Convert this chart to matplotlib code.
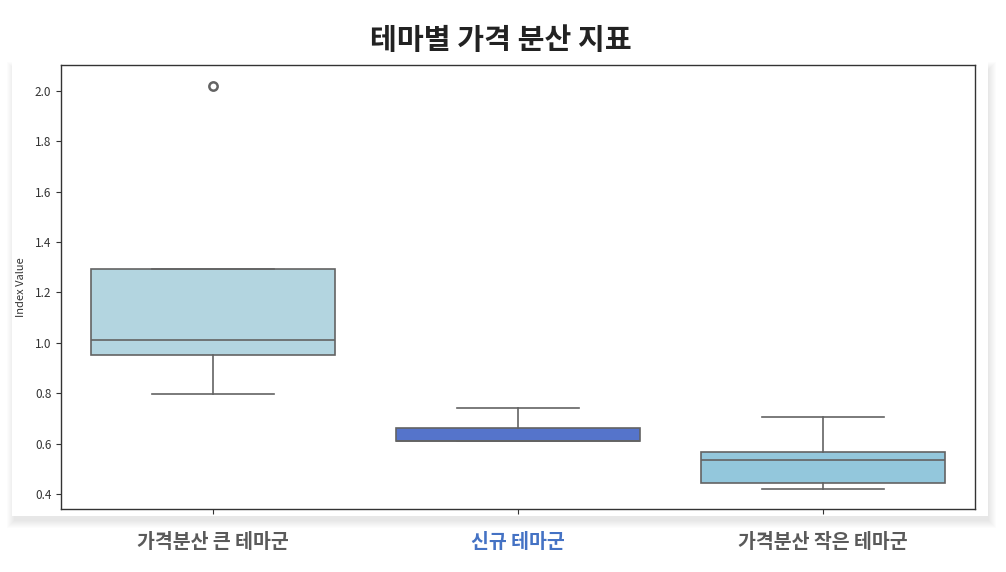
import matplotlib
matplotlib.use("Agg")
import matplotlib.pyplot as plt
from matplotlib.patches import Rectangle

plt.rcParams['font.family'] = ['Noto Sans CJK KR', 'DejaVu Sans']

categories = ["가격분산 큰 테마군", "신규 테마군", "가격분산 작은 테마군"]
q1 = [0.952, 0.610, 0.444]
med = [1.011, 0.610, 0.535]
q3 = [1.293, 0.662, 0.567]
whislo = [0.797, 0.610, 0.420]
whishi = [1.293, 0.741, 0.706]
fliers = [[2.02], [], []]
box_colors = ["#b3d5e0", "#5574cb", "#93c7dc"]
label_colors = ["#5a5a5a", "#4472c4", "#5a5a5a"]
yticks = [0.4, 0.6, 0.8, 1.0, 1.2, 1.4, 1.6, 1.8, 2.0]

W, H = 1006, 572
fig = plt.figure(figsize=(W / 100, H / 100), dpi=100)
fig.patch.set_facecolor("white")

# card with soft shadow (mostly below / right)
cx0, cy0, cx1, cy1 = 12, 62, 988, 516
for d in range(1, 9):
    fig.patches.append(Rectangle(((cx0 - d + 3) / W, 1 - (cy1 + d + 4) / H),
                                 (cx1 - cx0 + 2 * d - 3) / W, (cy1 - cy0 + 2 * d - 4) / H,
                                 transform=fig.transFigure, facecolor="black",
                                 edgecolor="none", alpha=0.012, zorder=0))
fig.patches.append(Rectangle((cx0 / W, 1 - cy1 / H), (cx1 - cx0) / W, (cy1 - cy0) / H,
                             transform=fig.transFigure, facecolor="white",
                             edgecolor="none", zorder=1))

ax = fig.add_axes([61 / W, 1 - 509 / H, (975 - 61) / W, (509 - 65) / H])
ax.set_zorder(2)
ax.set_facecolor("white")

stats = []
for i in range(3):
    stats.append(dict(med=med[i], q1=q1[i], q3=q3[i], whislo=whislo[i],
                      whishi=whishi[i], fliers=fliers[i]))

lc = "#636363"
bp = ax.bxp(stats, positions=[0, 1, 2], widths=0.8, patch_artist=True,
            boxprops=dict(edgecolor=lc, linewidth=1.2),
            medianprops=dict(color=lc, linewidth=1.2),
            whiskerprops=dict(color=lc, linewidth=1.2),
            capprops=dict(color=lc, linewidth=1.2),
            flierprops=dict(marker="o", markersize=6, markerfacecolor="none",
                            markeredgecolor=lc, markeredgewidth=1.8),
            capwidths=0.4)
for patch, c in zip(bp["boxes"], box_colors):
    patch.set_facecolor(c)

ax.set_xlim(-0.5, 2.5)
ax.set_ylim(0.34, 2.103)
ax.set_yticks(yticks)
ax.set_yticklabels([f"{v:.1f}" for v in yticks], fontsize=8.5, color="#333333")
ax.set_xticks([0, 1, 2])
ax.set_xticklabels([])
ax.tick_params(axis="both", length=3.5, width=0.8, color="#333333")
ax.set_ylabel("Index Value", fontsize=8, color="#333333", labelpad=6)
for s in ax.spines.values():
    s.set_color("#333333")
    s.set_linewidth(1.0)

# x labels below the card
for i, (lab, col) in enumerate(zip(categories, label_colors)):
    x_fig = (61 + (i + 0.5) * (975 - 61) / 3) / W
    fig.text(x_fig, 1 - 543 / H, lab, ha="center", va="center", fontsize=14,
             color=col, fontweight="bold")

fig.text(501 / W, 1 - 40 / H, "테마별 가격 분산 지표", ha="center", va="center",
         fontsize=21, fontweight="bold", color="#222222")

fig.savefig("out.png", dpi=100)
